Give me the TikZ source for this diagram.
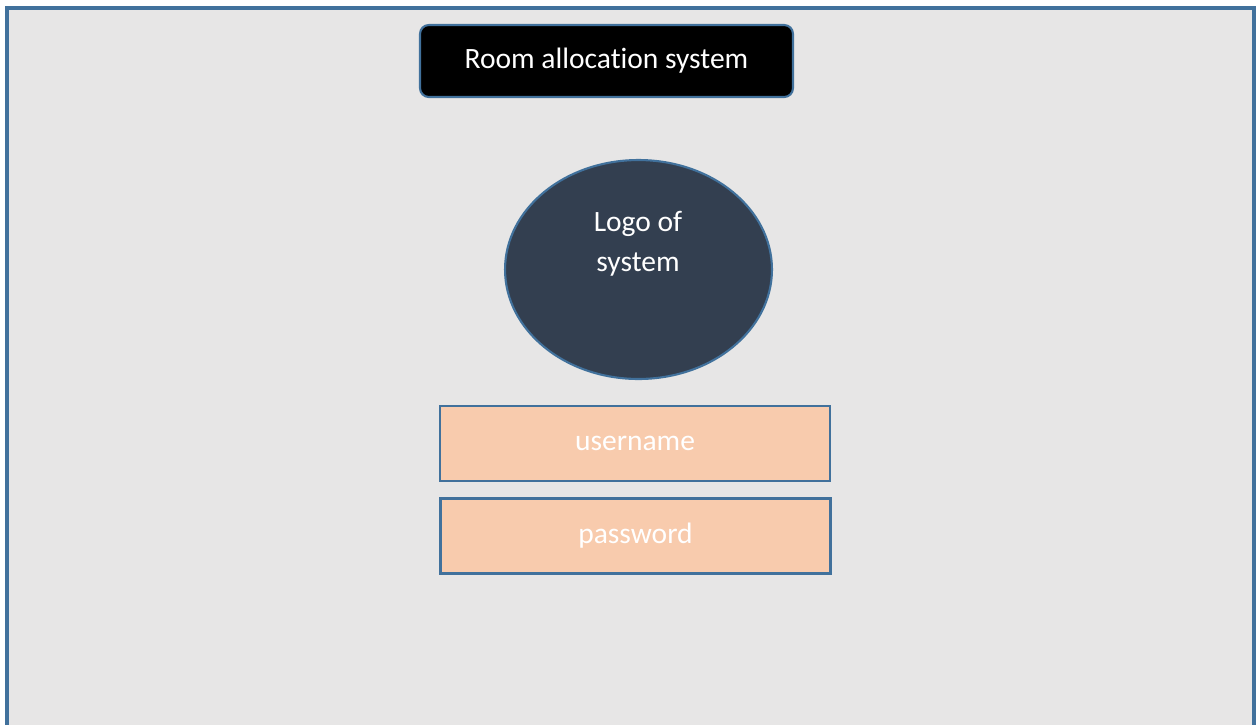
\documentclass[tikz,border=0pt]{standalone}
\usepackage{fontspec}
\setmainfont{Carlito}[Ligatures=NoCommon]
\usepackage{xcolor}
\usetikzlibrary{positioning, shapes.geometric}

\definecolor{frameblue}{HTML}{41719C}
\definecolor{pagegray}{HTML}{E7E6E6}
\definecolor{logonavy}{HTML}{333F50}
\definecolor{fieldpeach}{HTML}{F8CBAD}

\begin{document}
\begin{tikzpicture}[
    x={(0.02cm,0cm)},
    y={(0cm,-0.02cm)},
    txt/.style={text=white, font=\fontsize{16.8}{22.7}\selectfont},
    titlebox/.style={draw=frameblue, line width=1.2pt, fill=black, rounded corners=5pt,
        minimum width=7.46cm, minimum height=1.44cm, txt},
    logo/.style={ellipse, draw=frameblue, line width=1.2pt, fill=logonavy,
        minimum width=5.34cm, minimum height=4.38cm},
    fieldbox/.style={draw=frameblue, line width=1.2pt, fill=fieldpeach,
        minimum width=7.8cm, minimum height=1.5cm, txt}
]
\useasboundingbox (0,0) rectangle (1257,724);

% Page frame
\draw[line width=1.8pt, draw=frameblue, fill=pagegray] (7,740) -- (7,8) -- (1254,8) -- (1254,740);

% Header
\node[titlebox] (title) at (606.5,61) {Room allocation system};

% Logo
\node[logo] (logo) at (638.5,269.5) {};
\node[txt, align=center] (logotext) at (638,244) {Logo of\\system};

% Login fields
\node[fieldbox] (username) at (635,443.5) {username};
\node[fieldbox] (password) at (635.5,536) {password};
\end{tikzpicture}
\end{document}
